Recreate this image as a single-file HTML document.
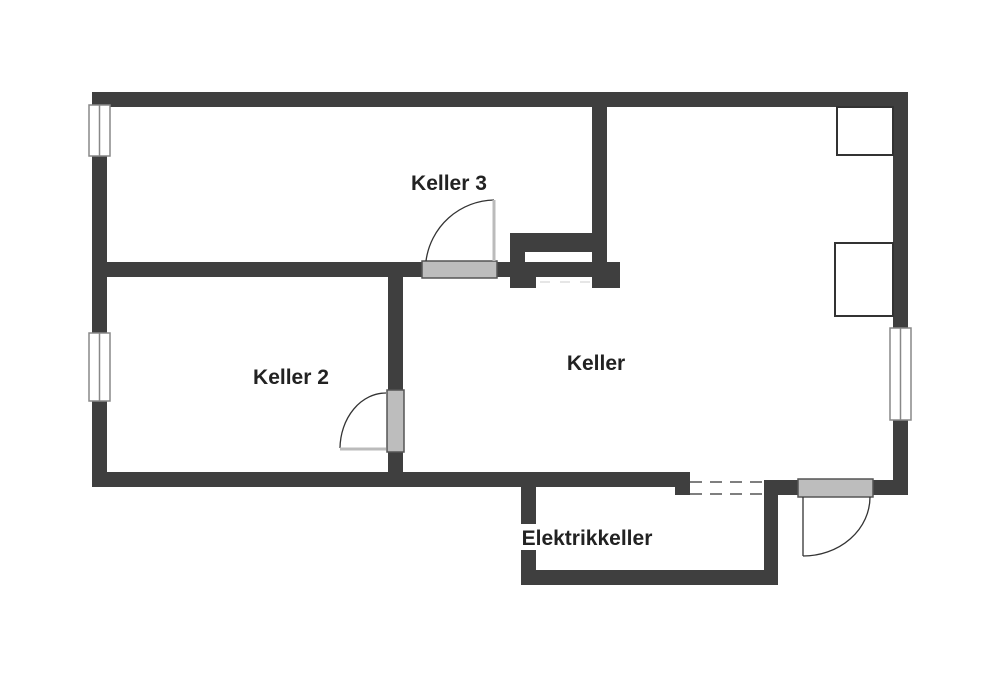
<!DOCTYPE html>
<html><head><meta charset="utf-8"><style>
html,body{margin:0;padding:0;background:#fff;width:1000px;height:676px;overflow:hidden}
text{font-family:"Liberation Sans",sans-serif;font-size:21px;font-weight:bold;fill:#222}
</style></head><body>
<svg width="1000" height="676" viewBox="0 0 1000 676" xmlns="http://www.w3.org/2000/svg">
<g fill="#3f3f3f">
<rect x="92" y="92" width="816" height="15"/>
<rect x="92" y="92" width="15" height="395"/>
<rect x="893" y="92" width="15" height="236"/>
<rect x="893" y="420" width="15" height="75"/>
<rect x="592" y="92" width="15" height="196"/>
<rect x="92" y="262" width="330" height="15"/>
<rect x="497" y="262" width="123" height="15"/>
<rect x="510" y="233" width="97" height="19"/>
<rect x="510" y="233" width="15" height="55"/>
<rect x="510" y="262" width="26" height="26"/>
<rect x="592" y="262" width="28" height="26"/>
<rect x="388" y="262" width="15" height="128"/>
<rect x="388" y="452" width="15" height="35"/>
<rect x="92" y="472" width="598" height="15"/>
<rect x="675" y="472" width="15" height="23"/>
<rect x="521" y="472" width="15" height="113"/>
<rect x="521" y="570" width="257" height="15"/>
<rect x="764" y="480" width="14" height="105"/>
<rect x="764" y="480" width="34" height="15"/>
<rect x="873" y="480" width="35" height="15"/>
</g>
<g fill="#fff" stroke="#888" stroke-width="1.5">
<rect x="89" y="105" width="21" height="51"/>
<line x1="99.5" y1="105" x2="99.5" y2="156"/>
<rect x="89" y="333" width="21" height="68"/>
<line x1="99.5" y1="333" x2="99.5" y2="401"/>
<rect x="890" y="328" width="21" height="92"/>
<line x1="900.5" y1="328" x2="900.5" y2="420"/>
</g>
<rect x="690" y="480" width="74" height="15" fill="#fff"/>
<line x1="690" y1="482" x2="764" y2="482" stroke="#555" stroke-width="1.5" stroke-dasharray="12,8"/>
<line x1="690" y1="494" x2="764" y2="494" stroke="#555" stroke-width="1.5" stroke-dasharray="12,8"/>
<line x1="540" y1="282" x2="590" y2="282" stroke="#ccc" stroke-width="1" stroke-dasharray="10,10"/>
<g fill="#fff" stroke="#333" stroke-width="2">
<rect x="837" y="107" width="56" height="48"/>
<rect x="835" y="243" width="58" height="73"/>
</g>
<g fill="#bdbdbd" stroke="#555" stroke-width="1.5">
<rect x="422" y="261" width="75" height="17"/>
<rect x="387" y="390" width="17" height="62"/>
<rect x="798" y="479" width="75" height="18"/>
</g>
<g fill="none" stroke="#333" stroke-width="1.3">
<path d="M426 261 A70 70 0 0 1 494 200"/>
<path d="M386 393 A46 56 0 0 0 340 448"/>
<path d="M803 556 A67 59 0 0 0 870 497"/>
<line x1="803" y1="497" x2="803" y2="556"/>
</g>
<line x1="494" y1="200" x2="494" y2="261" stroke="#bbb" stroke-width="3"/>
<line x1="340" y1="449" x2="386" y2="449" stroke="#bbb" stroke-width="3"/>
<rect x="517" y="524" width="140" height="26" fill="#fff"/>
<text x="449" y="190" text-anchor="middle">Keller 3</text>
<text x="596" y="370" text-anchor="middle">Keller</text>
<text x="291" y="384" text-anchor="middle">Keller 2</text>
<text x="587" y="545" text-anchor="middle">Elektrikkeller</text>
</svg>
</body></html>
